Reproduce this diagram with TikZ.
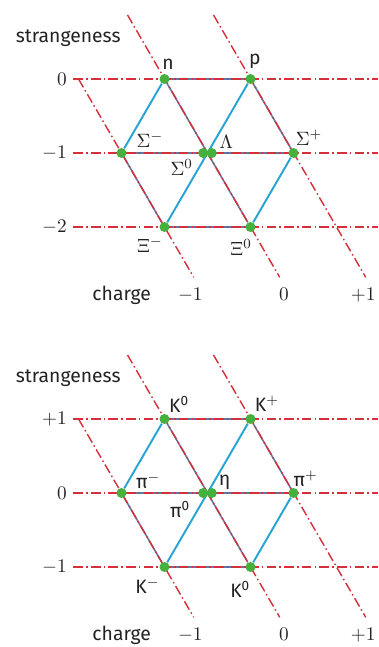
\documentclass[tikz,border=0pt]{standalone}
\usepackage{fontspec}
\newfontfamily\labelsans{Fira Sans}
\usetikzlibrary{positioning}

\definecolor{octgreen}{RGB}{70,176,62}
\definecolor{octcyan}{RGB}{40,164,212}
\definecolor{octred}{RGB}{212,48,58}
\definecolor{octslate}{RGB}{104,118,158}
\definecolor{octink}{RGB}{34,34,34}

\pgfdeclarelayer{edges}
\pgfsetlayers{edges,main}

\tikzset{
  particle/.style={circle, fill=octgreen, inner sep=0pt, minimum size=0.2cm},
  tag/.style={inner sep=0pt, text=octink, font=\labelsans\fontsize{11}{13}\selectfont},
  axistext/.style={text=octink, font=\labelsans\fontsize{11}{13}\selectfont},
  chargeline/.style={octred, line width=0.8pt, dash pattern=on 5.5pt off 1.8pt on 0.9pt off 1.8pt},
  isoedge/.style={octslate, line width=0.9pt},
  hyperedge/.style={octcyan, line width=1.1pt}
}

% rows of constant strangeness (#1,#2,#3 from the top) and lines of constant charge
\newcommand\octetgrid[3]{
  \foreach \s/\t [count=\i] in {0/#1,-1/#2,-2/#3}
    \draw[chargeline] (-1.56,\s) node[axistext,left] (srow\i) {$\t$} -- (1.98,\s);
  \draw[chargeline] (-1.5,0) -- (-0.16,-2.68);
  \draw[chargeline] (-0.93,0.865) -- (0.84,-2.68);
  \draw[chargeline] (0.07,0.865) -- (1.84,-2.68);
  \node[axistext,anchor=base west] (strangeness) at (-2.30,0.5) {strangeness};
  \node[axistext,anchor=base west] (charge) at (-1.41,-2.99) {charge};
  \foreach \q/\x [count=\i] in {-1/-0.2,0/0.89,+1/1.81}
    \node[axistext,anchor=base] (qcol\i) at (\x,-2.99) {$\q$};
}

\begin{document}
\begin{tikzpicture}[x=1.72cm,y=1.48cm]
  \useasboundingbox (-2.413,1.068) rectangle (1.983,-7.676);

  % baryon octet
  \octetgrid{0}{-1}{-2}
  \node[particle] (n) at (-0.5,0) {};
  \node[particle] (p) at (0.5,0) {};
  \node[particle] (sm) at (-1,-1) {};
  \node[particle] (sz) at (-0.05,-1) {};
  \node[particle] (lam) at (0.05,-1) {};
  \node[particle] (sp) at (1,-1) {};
  \node[particle] (xm) at (-0.5,-2) {};
  \node[particle] (xz) at (0.5,-2) {};
  \node[tag] (n-lab) at (-0.46,0.20) {n};
  \node[tag] (p-lab) at (0.55,0.24) {p};
  \node[tag] (sm-lab) at (-0.67,-0.82) {$\Sigma^-$};
  \node[tag] (lam-lab) at (0.22,-0.85) {$\Lambda$};
  \node[tag] (sp-lab) at (1.18,-0.80) {$\Sigma^+$};
  \node[tag] (sz-lab) at (-0.30,-1.19) {$\Sigma^0$};
  \node[tag] (xm-lab) at (-0.67,-2.24) {$\Xi^-$};
  \node[tag] (xz-lab) at (0.39,-2.27) {$\Xi^0$};
  \begin{pgfonlayer}{edges}
    \draw[isoedge] (n) -- (p) (sm) -- (sp) (xm) -- (xz) (n) -- (xz) (p) -- (sp) (sm) -- (xm);
    \draw[hyperedge] (sm) -- (n) (xm) -- (p) (xz) -- (sp);
  \end{pgfonlayer}

  % meson octet
  \begin{scope}[yshift=-6.8cm]
    \octetgrid{+1}{0}{-1}
    \node[particle] (k0) at (-0.5,0) {};
    \node[particle] (kp) at (0.5,0) {};
    \node[particle] (pim) at (-1,-1) {};
    \node[particle] (piz) at (-0.05,-1) {};
    \node[particle] (eta) at (0.05,-1) {};
    \node[particle] (pip) at (1,-1) {};
    \node[particle] (km) at (-0.5,-2) {};
    \node[particle] (k0b) at (0.5,-2) {};
    \node[tag] (k0-lab) at (-0.33,0.20) {K\textsuperscript{0}};
    \node[tag] (kp-lab) at (0.69,0.20) {K$^+$};
    \node[tag] (pim-lab) at (-0.69,-0.84) {π$^-$};
    \node[tag] (eta-lab) at (0.20,-0.85) {η};
    \node[tag] (pip-lab) at (1.14,-0.81) {π$^+$};
    \node[tag] (piz-lab) at (-0.32,-1.22) {π\textsuperscript{0}};
    \node[tag] (km-lab) at (-0.70,-2.26) {K$^-$};
    \node[tag] (k0b-lab) at (0.38,-2.30) {K\textsuperscript{0}};
    \begin{pgfonlayer}{edges}
      \draw[isoedge] (k0) -- (kp) (pim) -- (pip) (km) -- (k0b) (k0) -- (k0b) (kp) -- (pip) (pim) -- (km);
      \draw[hyperedge] (pim) -- (k0) (km) -- (kp) (k0b) -- (pip);
    \end{pgfonlayer}
  \end{scope}
\end{tikzpicture}
\end{document}
